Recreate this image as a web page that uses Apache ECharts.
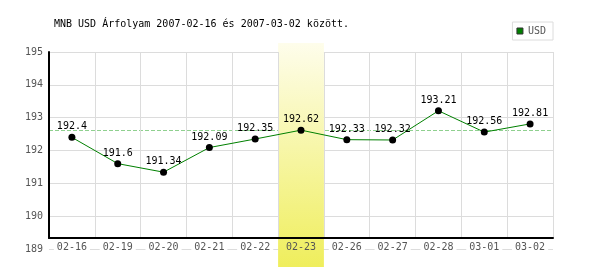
<!DOCTYPE html>
<html>
<head>
<meta charset="utf-8">
<script src="https://cdn.jsdelivr.net/npm/echarts@6/dist/echarts.min.js"></script>
<style>html,body{margin:0;padding:0;background:#fff}#c{width:600px;height:270px}</style>
</head>
<body>
<div id="c"></div>
<script>
const titleText = 'MNB USD Árfolyam 2007-02-16 és 2007-03-02 között.';
const seriesName = 'USD';
const categories = ['02-16','02-19','02-20','02-21','02-22','02-23','02-26','02-27','02-28','03-01','03-02'];
const usdValues = [192.4, 191.6, 191.34, 192.09, 192.35, 192.62, 192.33, 192.32, 193.21, 192.56, 192.81];
const highlightDay = '02-23';
const highlightBand = [0, 0, 0, 0, 0, 1, 0, 0, 0, 0, 0];
const referenceLine = 192.62;
const yMin = 189, yMax = 195, yStep = 1;

const MONO = '"DejaVu Sans Mono", monospace';
const chart = echarts.init(document.getElementById('c'), null, {renderer: 'canvas'});

chart.setOption({
  animation: false,
  backgroundColor: '#fff',
  title: {
    text: titleText, left: 54, top: 19, padding: 0,
    textStyle: {fontFamily: MONO, fontSize: 10, fontWeight: 'normal', color: '#000'}
  },
  legend: {
    right: 47, top: 22, padding: [4, 7, 4, 4],
    borderColor: '#dcdcdc', borderWidth: 1,
    itemWidth: 6, itemHeight: 6,
    textStyle: {fontFamily: MONO, fontSize: 10, color: '#555'},
    data: [{name: seriesName, icon: 'rect', itemStyle: {color: '#008000', borderColor: '#333', borderWidth: 1}}]
  },
  grid: [
    {left: 49, right: 47, top: 52, bottom: 21, outerBoundsMode: 'none'},
    {left: 49, right: 47, top: 52, bottom: 32, outerBoundsMode: 'none'},
    {left: 49, right: 47, top: 43, bottom: 3, outerBoundsMode: 'none'}
  ],
  xAxis: [
    {gridIndex: 0, type: 'category', data: categories, boundaryGap: true, show: false},
    {gridIndex: 1, type: 'category', data: categories, boundaryGap: true, z: 3,
      axisLine: {show: true, lineStyle: {color: '#000', width: 2}},
      axisTick: {show: false, interval: 0},
      splitLine: {show: true, interval: 0, lineStyle: {color: '#dcdcdc', width: 1}},
      axisLabel: {
        interval: 0, margin: 4, fontFamily: MONO, fontSize: 10, color: '#555',
        formatter: v => v === highlightDay ? '{h|' + v + '}' : '{w|' + v + '}',
        rich: {
          w: {fontFamily: MONO, fontSize: 10, color: '#555', backgroundColor: '#fff', padding: [0, 3]},
          h: {fontFamily: MONO, fontSize: 10, color: '#555', padding: [0, 3]}
        }
      }
    },
    {gridIndex: 2, type: 'category', data: categories, boundaryGap: true, show: false}
  ],
  yAxis: [
    {gridIndex: 0, type: 'value', min: yMin, max: yMax, interval: yStep,
      axisLine: {show: false}, axisTick: {show: false},
      splitLine: {show: true, lineStyle: {color: '#dcdcdc', width: 1}},
      axisLabel: {margin: 6, fontFamily: MONO, fontSize: 10, color: '#555'}
    },
    {gridIndex: 1, type: 'value', min: 0, max: 1, z: 3,
      axisLine: {show: true, lineStyle: {color: '#000', width: 2}},
      axisTick: {show: false}, axisLabel: {show: false}, splitLine: {show: false}
    },
    {gridIndex: 2, type: 'value', min: 0, max: 1, show: false}
  ],
  series: [
    {
      type: 'bar', xAxisIndex: 2, yAxisIndex: 2, data: highlightBand, barWidth: '100%',
      silent: true, z: 2, legendHoverLink: false,
      itemStyle: {color: new echarts.graphic.LinearGradient(0, 0, 0, 1, [
        {offset: 0, color: '#fefdeb'}, {offset: 1, color: '#efee5c'}
      ])}
    },
    {
      name: seriesName, type: 'line', xAxisIndex: 0, yAxisIndex: 0, data: usdValues, z: 4,
      symbol: 'circle', symbolSize: 7,
      lineStyle: {color: '#008000', width: 1},
      itemStyle: {color: '#000'},
      label: {show: true, position: 'top', distance: 2, fontFamily: MONO, fontSize: 10, color: '#000'},
      markLine: {
        silent: true, symbol: 'none', z: 1,
        label: {show: false},
        lineStyle: {color: '#8fd08f', type: [4, 2], width: 1},
        data: [{yAxis: referenceLine}]
      }
    }
  ]
});
</script>
</body>
</html>
